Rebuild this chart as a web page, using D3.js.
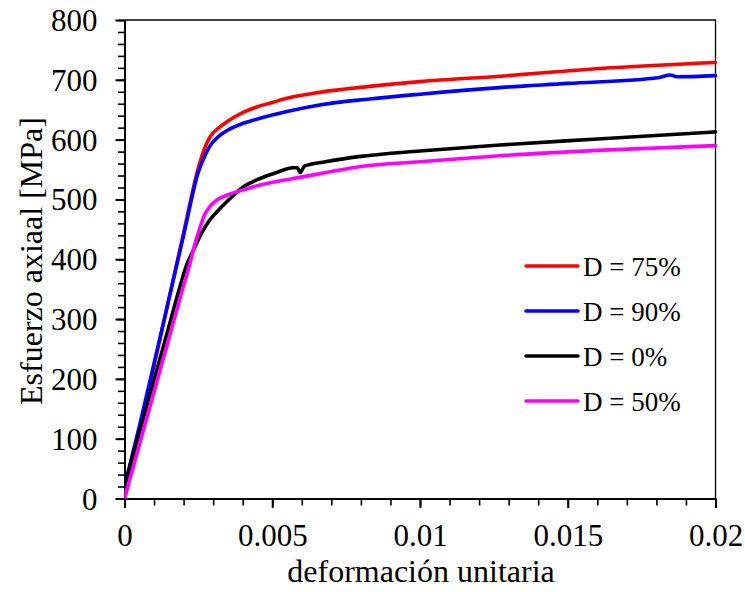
<!DOCTYPE html>
<html>
<head>
<meta charset="utf-8">
<script src="https://cdn.jsdelivr.net/npm/d3@7/dist/d3.min.js"></script>
<style>
  html, body { margin: 0; padding: 0; background: #fff; }
  svg { display: block; }
  text { font-family: "Liberation Serif", "Times New Roman", serif; fill: #000; }
</style>
</head>
<body>
<svg id="chart" width="745" height="592"></svg>
<script>
// Stress–strain curves: [strain, axial stress in MPa]
const seriesD75 = [
  [0, 0], [0.0005, 111], [0.001, 222], [0.0015, 333], [0.002, 444], [0.0025, 553],
  [0.0027, 584], [0.0029, 605], [0.0032, 620], [0.0035, 631], [0.004, 645],
  [0.0045, 655], [0.005, 662], [0.0055, 669], [0.0066, 679], [0.0083, 689],
  [0.01, 697], [0.0127, 706], [0.0161, 719], [0.02, 729]
];
const seriesD90 = [
  [0, 20], [0.0005, 120], [0.001, 226], [0.0015, 333], [0.002, 440], [0.0025, 546],
  [0.0027, 571], [0.0029, 590], [0.0032, 606], [0.0035, 616], [0.004, 627],
  [0.0044, 633], [0.005, 641], [0.0055, 647], [0.0066, 658], [0.0083, 668],
  [0.01, 676], [0.0127, 687], [0.015, 694], [0.0181, 704], [0.01846, 708],
  [0.0187, 705], [0.02, 707]
];
const seriesD0 = [
  [0, 20], [0.0005, 110], [0.001, 198], [0.0015, 287], [0.0019, 358], [0.0021, 390],
  [0.00233, 415], [0.0026, 443], [0.00289, 466], [0.0032, 483], [0.00346, 496],
  [0.00402, 521], [0.00459, 535], [0.00515, 545], [0.0057, 553], [0.00585, 553],
  [0.00594, 545], [0.0061, 556], [0.0068, 563], [0.008, 572], [0.01, 581],
  [0.0127, 591], [0.016, 601], [0.02, 613]
];
const seriesD50 = [
  [0, 0], [0.0005, 89], [0.001, 178], [0.0015, 267], [0.002, 356], [0.0022, 390],
  [0.00238, 425], [0.00255, 452], [0.0027, 473], [0.00289, 488], [0.0031, 498],
  [0.00346, 507], [0.00402, 516], [0.00459, 524], [0.00571, 535], [0.00684, 545],
  [0.008, 555], [0.01, 563], [0.0127, 573], [0.016, 582], [0.02, 590]
];

const seriesNames = ["D = 75%", "D = 90%", "D = 0%", "D = 50%"];
const seriesColors = ["#ff0000", "#0000ff", "#000000", "#ff00ff"];
const seriesData = [seriesD75, seriesD90, seriesD0, seriesD50];

const xTicks = [0, 0.005, 0.01, 0.015, 0.02];
const xTickLabels = ["0", "0.005", "0.01", "0.015", "0.02"];
const yTicks = [0, 100, 200, 300, 400, 500, 600, 700, 800];

const xTitle = "deformación unitaria";
const yTitle = "Esfuerzo axiaal [MPa]";

const svg = d3.select("#chart");
const plot = { left: 124.5, right: 715.5, top: 20, bottom: 498.5 };

const x = d3.scaleLinear().domain([0, 0.02]).range([plot.left, plot.right]);
const y = d3.scaleLinear().domain([0, 800]).range([plot.bottom, plot.top]);

// frame: top and right edges
svg.append("path")
  .attr("d", `M${plot.left},${plot.top}H${plot.right}V${plot.bottom}`)
  .attr("fill", "none").attr("stroke", "#000").attr("stroke-width", 1.3);

// minor ticks
svg.append("g")
  .attr("transform", `translate(${plot.left},0)`)
  .call(d3.axisLeft(y).tickValues(d3.range(0, 801, 20)).tickSize(6.5).tickSizeOuter(0).tickFormat(""))
  .call(g => g.select(".domain").remove())
  .call(g => g.selectAll("line").attr("stroke-width", 1.6));
svg.append("g")
  .attr("transform", `translate(0,${plot.bottom})`)
  .call(d3.axisBottom(x).tickValues(d3.range(0, 21).map(i => i * 0.001)).tickSize(7).tickSizeOuter(0).tickFormat(""))
  .call(g => g.select(".domain").remove())
  .call(g => g.selectAll("line").attr("stroke-width", 1.6));

// major ticks with labels
const yAxis = svg.append("g")
  .attr("transform", `translate(${plot.left},0)`)
  .call(d3.axisLeft(y).tickValues(yTicks).tickSize(9).tickPadding(18).tickSizeOuter(0).tickFormat(d3.format("d")));
yAxis.select(".domain").attr("stroke-width", 2);
yAxis.selectAll("line").attr("stroke-width", 2);
yAxis.selectAll("text").attr("font-size", 31).attr("font-family", "Liberation Serif").attr("dy", "0.34em");

const xAxis = svg.append("g")
  .attr("transform", `translate(0,${plot.bottom})`)
  .call(d3.axisBottom(x).tickValues(xTicks).tickSize(9.5).tickPadding(16).tickSizeOuter(0)
    .tickFormat((d, i) => xTickLabels[i]));
xAxis.select(".domain").attr("stroke-width", 2);
xAxis.selectAll("line").attr("stroke-width", 2);
xAxis.selectAll("text").attr("font-size", 31).attr("font-family", "Liberation Serif");

// curves
const line = d3.line().x(d => x(d[0])).y(d => y(d[1])).curve(d3.curveMonotoneX);
svg.append("clipPath").attr("id", "plotclip").append("rect")
  .attr("x", plot.left).attr("y", plot.top - 5)
  .attr("width", plot.right - plot.left + 2).attr("height", plot.bottom - plot.top + 5);
svg.append("g").attr("clip-path", "url(#plotclip)")
  .selectAll("path").data(seriesData).join("path")
  .attr("d", line)
  .attr("fill", "none")
  .attr("stroke", (d, i) => seriesColors[i])
  .attr("stroke-width", 3.6)
  .attr("stroke-linejoin", "round")
  .attr("stroke-linecap", "round");

// legend
const legend = svg.append("g");
const legendY = [266, 311, 356, 401];
seriesNames.forEach((name, i) => {
  legend.append("line")
    .attr("x1", 526).attr("x2", 578)
    .attr("y1", legendY[i]).attr("y2", legendY[i])
    .attr("stroke", seriesColors[i]).attr("stroke-width", 3.4).attr("stroke-linecap", "round");
  legend.append("text")
    .attr("x", 583).attr("y", legendY[i] + 9.5)
    .attr("font-size", 27)
    .text(name);
});

// axis titles
svg.append("text")
  .attr("x", (plot.left + plot.right) / 2 + 1)
  .attr("y", 582)
  .attr("text-anchor", "middle")
  .attr("font-size", 32)
  .text(xTitle);

svg.append("text")
  .attr("transform", "translate(41.5,261) rotate(-90)")
  .attr("text-anchor", "middle")
  .attr("font-size", 32)
  .text(yTitle);
</script>
</body>
</html>
